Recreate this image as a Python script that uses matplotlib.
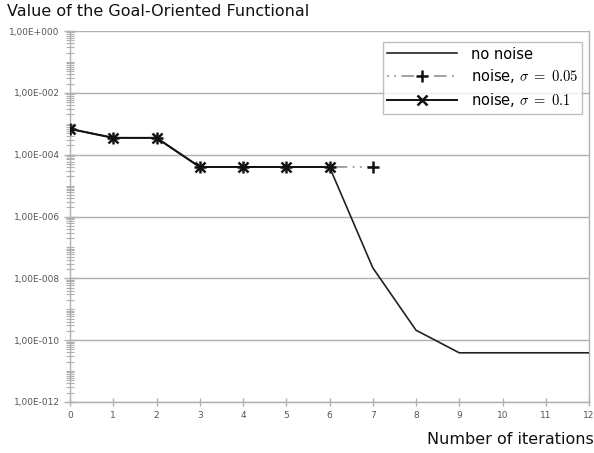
import matplotlib
matplotlib.use("Agg")
import matplotlib.pyplot as plt
from matplotlib.ticker import FixedLocator, FuncFormatter, NullFormatter
import numpy as np

plt.rcParams['mathtext.fontset'] = 'cm'

iters_no_noise = [0, 1, 2, 3, 4, 5, 6, 7, 8, 9, 10, 11, 12]
vals_no_noise = [6.8e-4, 3.5e-4, 3.5e-4, 4.0e-5, 4.0e-5, 4.0e-5, 4.0e-5,
                 2.2e-8, 2.1e-10, 3.9e-11, 3.9e-11, 3.9e-11, 3.9e-11]
iters_s005 = [0, 1, 2, 3, 4, 5, 6, 7]
vals_s005 = [6.8e-4, 3.5e-4, 3.5e-4, 4.0e-5, 4.0e-5, 4.0e-5, 4.0e-5, 4.0e-5]
iters_s01 = [0, 1, 2, 3, 4, 5, 6]
vals_s01 = [6.8e-4, 3.5e-4, 3.5e-4, 4.0e-5, 4.0e-5, 4.0e-5, 4.0e-5]
xticks = list(range(0, 13))
ytick_exps = [0, -2, -4, -6, -8, -10, -12]

fig = plt.figure(figsize=(5.94, 4.53), dpi=100)
ax = fig.add_axes([70/594, 1-402/453, (589-70)/594, (402-31)/453])

ax.plot(iters_no_noise, vals_no_noise, color='#222222', lw=1.2, label='no noise', zorder=3)
ax.plot(iters_s005, vals_s005, color='#999999', lw=1.3, ls=(0, (1, 3, 1, 3, 7, 3)),
        marker='+', ms=9, mew=1.8, mec='#111111', label=r'noise, $\sigma\;=\;0.05$', zorder=4)
ax.plot(iters_s01, vals_s01, color='#111111', lw=1.4, ls='-',
        marker='x', ms=6.5, mew=1.8, label=r'noise, $\sigma\;=\;0.1$', zorder=5)

ax.set_yscale('log')
ax.set_ylim(1e-12, 1e0)
ax.set_xlim(0, 12)
ax.set_xticks(xticks)
ax.set_xticklabels([str(t) for t in xticks])

major = [10.0 ** e for e in ytick_exps]
minor = [m * 10.0 ** e for e in range(-12, 0) for m in range(1, 10)
         if 1e-12 <= m * 10.0 ** e <= 1.0 and (m * 10.0 ** e) not in major]
ax.yaxis.set_major_locator(FixedLocator(major))
ax.yaxis.set_minor_locator(FixedLocator(minor))
ax.yaxis.set_minor_formatter(NullFormatter())

def fmt(v, pos):
    e = int(round(np.log10(v)))
    sign = '+' if e >= 0 else '-'
    return "1,00E%s%03d" % (sign, abs(e))
ax.yaxis.set_major_formatter(FuncFormatter(fmt))

ax.grid(True, which='major', axis='y', color='#b0b0b0', lw=1)
for s in ax.spines.values():
    s.set_color('#b0b0b0')
    s.set_linewidth(1)
ax.spines['top'].set_visible(False)

ax.tick_params(axis='both', which='major', colors='#b0b0b0', labelcolor='#555555',
               labelsize=6.5, length=6, direction='inout', width=1)
ax.tick_params(axis='y', which='minor', colors='#b0b0b0', length=6, direction='inout', width=0.8)
ax.tick_params(axis='y', which='major', length=8)

leg = ax.legend(loc='upper right', bbox_to_anchor=(0.987, 0.97), fontsize=10.5,
                frameon=True, fancybox=False, edgecolor='#b0b0b0',
                handlelength=4.8, borderpad=0.3, labelspacing=0.4, handletextpad=0.9,
                borderaxespad=0.0)
leg.get_frame().set_linewidth(1)

fig.text(0.012, 1-12/453, 'Value of the Goal-Oriented Functional', fontsize=11.5,
         ha='left', va='center', color='#111111')
fig.text(0.999, 1-439/453, 'Number of iterations', fontsize=11.5,
         ha='right', va='center', color='#111111')

fig.savefig('out.png', dpi=100, facecolor='white')
